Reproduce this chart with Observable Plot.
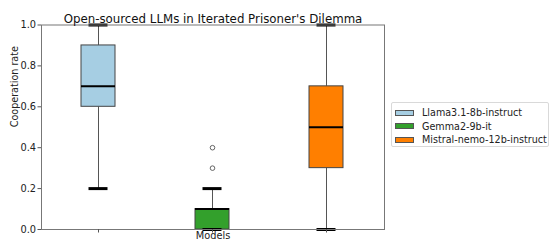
<!DOCTYPE html>
<html>
<head>
<meta charset="utf-8">
<script src="https://cdn.jsdelivr.net/npm/d3@7"></script>
<script src="https://cdn.jsdelivr.net/npm/@observablehq/plot@0.6"></script>
<style>
  html, body { margin: 0; padding: 0; background: #fff; }
  #wrap { position: relative; width: 551px; height: 243px; font-family: "DejaVu Sans", sans-serif; }
  #legend { position: absolute; left: 391px; top: 102px; width: 158px; height: 45px; box-sizing: border-box;
    border: 1px solid #d9d9d9; border-radius: 2px; background: #fff; font-size: 9.6px; color: #222; padding-top: 3px; }
  .row { display: flex; align-items: center; height: 13.5px; }
  .sw { width: 19px; height: 6px; border: 1px solid #555; margin-left: 3px; margin-right: 8px; box-sizing: border-box; }
</style>
</head>
<body>
<div id="wrap"><div id="chart"></div><div id="legend"></div></div>
<script>
const models = ["Llama3.1-8b-instruct", "Gemma2-9b-it", "Mistral-nemo-12b-instruct"];
const colors = ["#a6cee3", "#33a02c", "#ff7f00"];
const whiskerLow = [0.2, 0.0, 0.0];
const q1 = [0.6, 0.0, 0.3];
const median = [0.7, 0.1, 0.5];
const q3 = [0.9, 0.1, 0.7];
const whiskerHigh = [1.0, 0.2, 1.0];
const outlierModel = ["Gemma2-9b-it", "Gemma2-9b-it"];
const outlierValue = [0.3, 0.4];
const yTicks = [0, 0.2, 0.4, 0.6, 0.8, 1.0];

const stats = models.map((m, i) => ({
  model: m, color: colors[i], lo: whiskerLow[i], q1: q1[i], med: median[i], q3: q3[i], hi: whiskerHigh[i]
}));
const outliers = outlierModel.map((m, i) => ({model: m, value: outlierValue[i]}));

const chart = Plot.plot({
  width: 551,
  height: 243,
  marginTop: 24.5,
  marginLeft: 41,
  marginRight: 167,
  marginBottom: 14,
  style: {fontFamily: "DejaVu Sans, sans-serif", fontSize: "9.6px", color: "#222", background: "#fff"},
  x: {type: "band", domain: models, paddingInner: 0.7, paddingOuter: 0.35, label: null},
  y: {domain: [0, 1], label: null},
  marks: [
    Plot.ruleX(stats, {x: "model", y1: "lo", y2: "q1", stroke: "#555", strokeWidth: 1}),
    Plot.ruleX(stats, {x: "model", y1: "q3", y2: "hi", stroke: "#555", strokeWidth: 1}),
    Plot.barY(stats, {x: "model", y1: "q1", y2: "q3", fill: "color", stroke: "#444", strokeWidth: 1}),
    Plot.tickY(stats, {x: "model", y: "med", stroke: "#000", strokeWidth: 2}),
    Plot.tickY(stats, {x: "model", y: "lo", stroke: "#000", strokeWidth: 3, insetLeft: 7.5, insetRight: 7.5}),
    Plot.tickY(stats, {x: "model", y: "hi", stroke: "#000", strokeWidth: 3, insetLeft: 7.5, insetRight: 7.5}),
    Plot.dot(outliers, {x: "model", y: "value", r: 2.3, stroke: "#555", fill: "#fff", strokeWidth: 0.9}),
    Plot.frame({stroke: "#777", strokeWidth: 1}),
    Plot.axisY({ticks: yTicks, tickFormat: d3.format(".1f"), tickSize: 3.5, tickPadding: 2, stroke: "#555", label: null, fontSize: 9.8}),
    Plot.axisX({tickFormat: () => "", tickSize: 3.5, stroke: "#555", label: null}),
    Plot.text(["Models"], {frameAnchor: "bottom", dy: 9.5, fontSize: 9.8, fill: "#222"}),
    Plot.text(["Cooperation rate"], {frameAnchor: "left", dx: -27, rotate: -90, fontSize: 9.6, fill: "#222"}),
    Plot.text(["Open-sourced LLMs in Iterated Prisoner's Dilemma"], {frameAnchor: "top", dy: -10.5, fontSize: 11.8, fill: "#111"})
  ]
});
document.getElementById("chart").appendChild(chart);

const legend = document.getElementById("legend");
models.forEach((m, i) => {
  const row = document.createElement("div");
  row.className = "row";
  const sw = document.createElement("div");
  sw.className = "sw";
  sw.style.background = colors[i];
  const t = document.createElement("span");
  t.textContent = m;
  row.appendChild(sw);
  row.appendChild(t);
  legend.appendChild(row);
});
</script>
</body>
</html>
